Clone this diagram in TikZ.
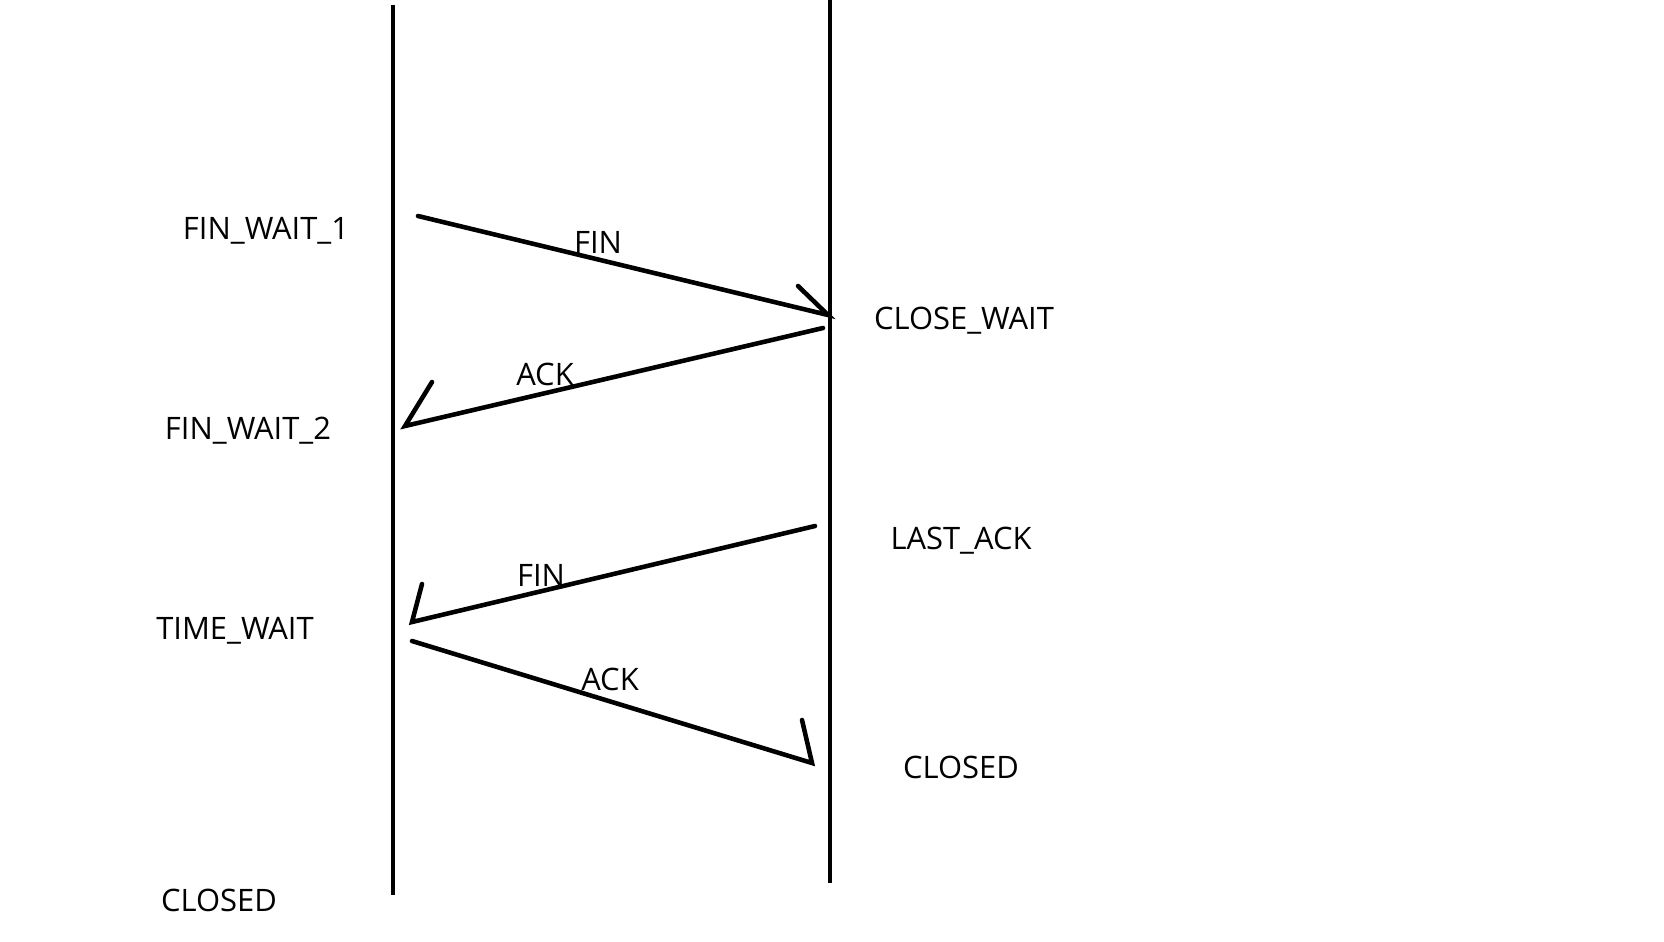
\documentclass[tikz,border=0pt]{standalone}
\usepackage{fontspec}
\setmainfont{Open Sans}
\usepackage{tikz}
\usetikzlibrary{positioning, calc}

\begin{document}
\begin{tikzpicture}[x=1cm, y=1cm,
      every node/.style={font=\fontsize{8.8}{10}\selectfont, inner sep=0pt},
      life/.style={line width=1.3pt},
      msg/.style={line width=1.3pt, line cap=round}]
    \useasboundingbox (0,0) rectangle (16.64,-9.41);
    % lifelines
    \coordinate (lTop) at (3.93,-0.05);
    \coordinate (lBot) at (3.93,-8.95);
    \coordinate (rTop) at (8.30, 0.00);
    \coordinate (rBot) at (8.30,-8.83);
    \draw[life] (lTop) -- (lBot);
    \draw[life] (rTop) -- (rBot);
    % states
    \node (finwait1)  at (2.66,-2.31) {FIN\_WAIT\_1};
    \node (finwait2)  at (2.48,-4.31) {FIN\_WAIT\_2};
    \node (timewait)  at (2.35,-6.31) {TIME\_WAIT};
    \node (closedL)   at (2.19,-9.00) {CLOSED};
    \node (closewait) at (9.64,-3.21) {CLOSE\_WAIT};
    \node (lastack)   at (9.61,-5.41) {LAST\_ACK};
    \node (closedR)   at (9.61,-7.67) {CLOSED};
    % message end points
    \coordinate (fin1s) at (4.18,-2.16);
    \coordinate (fin1e) at (8.28,-3.15);
    \coordinate (fin1b) at (7.98,-2.86);
    \coordinate (ack1s) at (8.23,-3.28);
    \coordinate (ack1e) at (4.05,-4.26);
    \coordinate (ack1b) at (4.32,-3.82);
    \coordinate (fin2s) at (8.15,-5.26);
    \coordinate (fin2e) at (4.12,-6.22);
    \coordinate (fin2b) at (4.22,-5.84);
    \coordinate (ack2s) at (4.12,-6.41);
    \coordinate (ack2e) at (8.12,-7.63);
    \coordinate (ack2b) at (8.02,-7.20);
    % messages
    \draw[msg] (fin1s) -- (fin1e) -- (fin1b);
    \draw[msg] (ack1s) -- (ack1e) -- (ack1b);
    \draw[msg] (fin2s) -- (fin2e) -- (fin2b);
    \draw[msg] (ack2s) -- (ack2e) -- (ack2b);
    \node (finA) at (5.98,-2.42) {FIN};
    \node (ackA) at (5.45,-3.74) {ACK};
    \node (finB) at (5.41,-5.75) {FIN};
    \node (ackB) at (6.10,-6.79) {ACK};
  \end{tikzpicture}
\end{document}
